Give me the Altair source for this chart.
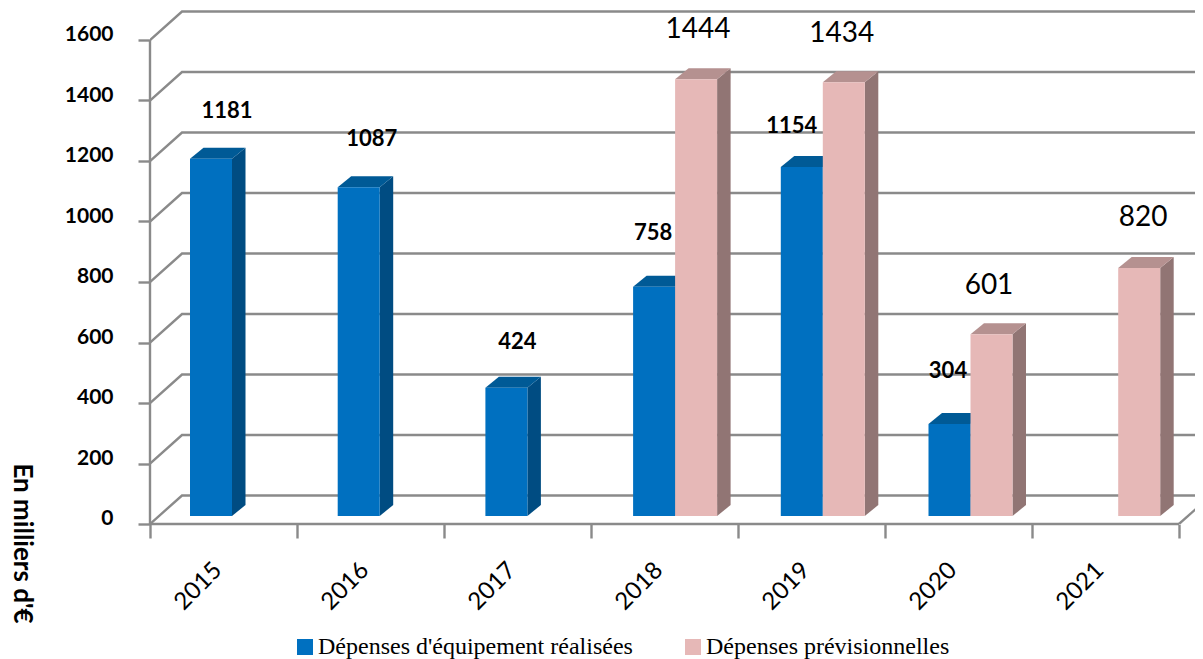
import altair as alt
import pandas as pd

# ---------- values ----------
years = ["2015", "2016", "2017", "2018", "2019", "2020", "2021"]
realisees = [1181, 1087, 424, 758, 1154, 304, None]
previsionnelles = [None, None, None, 1444, 1434, 601, 820]
series_names = ["Dépenses d'équipement réalisées", "Dépenses prévisionnelles"]
y_ticks = [0, 200, 400, 600, 800, 1000, 1200, 1400, 1600]

# ---------- label nudges, in pixels relative to the bar top centre ----------
real_nudge = [(16, -48), (13, -48), (11, -46), (-1, -54), (-10, -41), (-1.5, -53), (0, 0)]
prev_nudge = [(0, 0), (0, 0), (0, 0), (2, -49.5), (-2, -48.5), (-2.5, -48.5), (4, -49.5)]

# ---------- layout ----------
PX_X = 147.0            # pixels per category on the front axis
PX_Y = 0.3025           # pixels per unit of value
PLOT_W, PLOT_H = 1045, 516
x_scale = alt.Scale(domain=[0, PLOT_W / PX_X], nice=False, zero=False)
y_scale = alt.Scale(domain=[0, PLOT_H / PX_Y], nice=False, zero=False)
WALL_X, WALL_Y = 32 / PX_X, 28.5 / PX_Y    # depth of the walls
DEPTH_X, DEPTH_Y = 13.5 / PX_X, 11 / PX_Y  # depth of the bars
BASE = 8 / PX_Y                            # bars stand inside the floor
SLOT = 147.7 / PX_X
FIRST = 40 / PX_X
BAR_W = 42 / PX_X
GREY = "#8a8a8a"


def bars(values, names, slot_shift, nudges):
    rows, side, top, labels = [], [], [], []
    for i, v in enumerate(values):
        if v is None:
            continue
        x0 = FIRST + i * SLOT + slot_shift
        x1 = x0 + BAR_W
        t = v + BASE
        rows.append(dict(x=x0, x2=x1, y=BASE, y2=t, series=names))
        side += [dict(id=i, x=x1, y=BASE, y2=t),
                 dict(id=i, x=x1 + DEPTH_X, y=BASE + DEPTH_Y, y2=t + DEPTH_Y)]
        top += [dict(id=i, x=x0, y=t, y2=t),
                dict(id=i, x=x0 + DEPTH_X, y=t, y2=t + DEPTH_Y),
                dict(id=i, x=x1, y=t, y2=t + DEPTH_Y),
                dict(id=i, x=x1 + DEPTH_X, y=t + DEPTH_Y, y2=t + DEPTH_Y)]
        labels.append(dict(x=(x0 + x1) / 2 + nudges[i][0] / PX_X,
                           y=t - nudges[i][1] / PX_Y, text=str(v)))
    return map(pd.DataFrame, (rows, side, top, labels))


blue_front, blue_side, blue_top, blue_labels = bars(realisees, series_names[0], 0, real_nudge)
pink_front, pink_side, pink_top, pink_labels = bars(previsionnelles, series_names[1], BAR_W, prev_nudge)

# ---------- walls ----------
grid_rows = []
for v in y_ticks:
    grid_rows += [dict(v=v, x=0, y=v),
                  dict(v=v, x=WALL_X, y=v + WALL_Y),
                  dict(v=v, x=PLOT_W / PX_X + 1, y=v + WALL_Y)]
grid = alt.Chart(pd.DataFrame(grid_rows)).mark_line(color=GREY, strokeWidth=2.4, clip=True).encode(
    x=alt.X("x:Q", scale=x_scale, title=None, axis=alt.Axis(
        values=list(range(8)), domain=False, grid=False, tickSize=14, tickWidth=2.4, tickColor=GREY,
        labelExpr="(" + str(years) + ")[datum.value] || ''",
        labelAngle=315, labelAlign="center", labelBaseline="middle", labelOffset=48, labelPadding=48,
        labelFont="Lato", labelFontSize=24, labelColor="#000000", labelOverlap=False, labelBound=False, labelFlush=False)),
    y=alt.Y("y:Q", scale=y_scale, title="En milliers d'€", axis=alt.Axis(
        values=y_ticks, format="d", domain=False, grid=False, tickSize=12, tickWidth=2.4, tickColor=GREY,
        labelFont="Lato", labelFontWeight="bold", labelFontSize=21, labelColor="#000000",
        labelPadding=25, labelOffset=-5.5, labelOverlap=False, labelBound=False, labelFlush=False,
        titleFont="Lato", titleFontWeight="bold", titleFontSize=26, titleColor="#000000",
        titleAngle=90, titleX=-129, titleY=535, titleAlign="center", titleBaseline="middle")),
    detail="v:N",
)

frame_rows = [dict(x=0, x2=0, y=0, y2=y_ticks[-1]),
              dict(x=0, x2=7, y=0, y2=0)]
frame_left = alt.Chart(pd.DataFrame(frame_rows[:1])).mark_rule(color=GREY, strokeWidth=2.4).encode(
    x=alt.X("x:Q", scale=x_scale, axis=None), y=alt.Y("y:Q", scale=y_scale, axis=None), y2="y2:Q")
frame_floor = alt.Chart(pd.DataFrame(frame_rows[1:])).mark_rule(color=GREY, strokeWidth=2.4).encode(
    x=alt.X("x:Q", scale=x_scale, axis=None), x2="x2:Q", y=alt.Y("y:Q", scale=y_scale, axis=None))
floor_diag = alt.Chart(pd.DataFrame([dict(x=7, y=0), dict(x=7 + WALL_X, y=WALL_Y)])).mark_line(
    color=GREY, strokeWidth=2.4, clip=True).encode(
    x=alt.X("x:Q", scale=x_scale, axis=None), y=alt.Y("y:Q", scale=y_scale, axis=None))


# ---------- bars ----------
def face(df, colour):
    return alt.Chart(df).mark_area(color=colour, interpolate="linear").encode(
        x=alt.X("x:Q", scale=x_scale, axis=None),
        y=alt.Y("y:Q", scale=y_scale, axis=None),
        y2="y2:Q",
        detail="id:N",
    )


colour = alt.Color("series:N",
                   scale=alt.Scale(domain=series_names, range=["#0070C0", "#E6B8B7"]),
                   legend=alt.Legend(title=None, orient="none", legendX=143, legendY=627,
                                     direction="horizontal", symbolType="square", symbolSize=256,
                                     symbolStrokeWidth=0, symbolOpacity=1, columnPadding=48,
                                     labelFont="Liberation Serif", labelFontSize=24, labelColor="#000000",
                                     labelLimit=400, labelOffset=1))


def front(df):
    return alt.Chart(df).mark_rect().encode(
        x=alt.X("x:Q", scale=x_scale, axis=None), x2="x2:Q",
        y=alt.Y("y:Q", scale=y_scale, axis=None), y2="y2:Q",
        color=colour,
    )


def texts(df, weight, size):
    return alt.Chart(df).mark_text(font="Lato", fontWeight=weight, fontSize=size, color="#000000",
                                   baseline="middle", align="center").encode(
        x=alt.X("x:Q", scale=x_scale, axis=None),
        y=alt.Y("y:Q", scale=y_scale, axis=None),
        text="text:N",
    )


chart = alt.layer(
    grid, frame_left, frame_floor, floor_diag,
    face(blue_side, "#004C82"), face(blue_top, "#005A96"), front(blue_front),
    face(pink_side, "#917574"), face(pink_top, "#B59190"), front(pink_front),
    texts(blue_labels, "bold", 22), texts(pink_labels, "normal", 28),
).resolve_axis(x="independent", y="independent").properties(
    width=PLOT_W, height=PLOT_H,
    autosize=alt.AutoSizeParams(type="none"),
    padding={"left": 142, "top": 0, "right": 0, "bottom": 135},
    background="#ffffff",
).configure_view(stroke=None)

chart.save("out.html", embed_options={"renderer": "svg", "actions": False})
